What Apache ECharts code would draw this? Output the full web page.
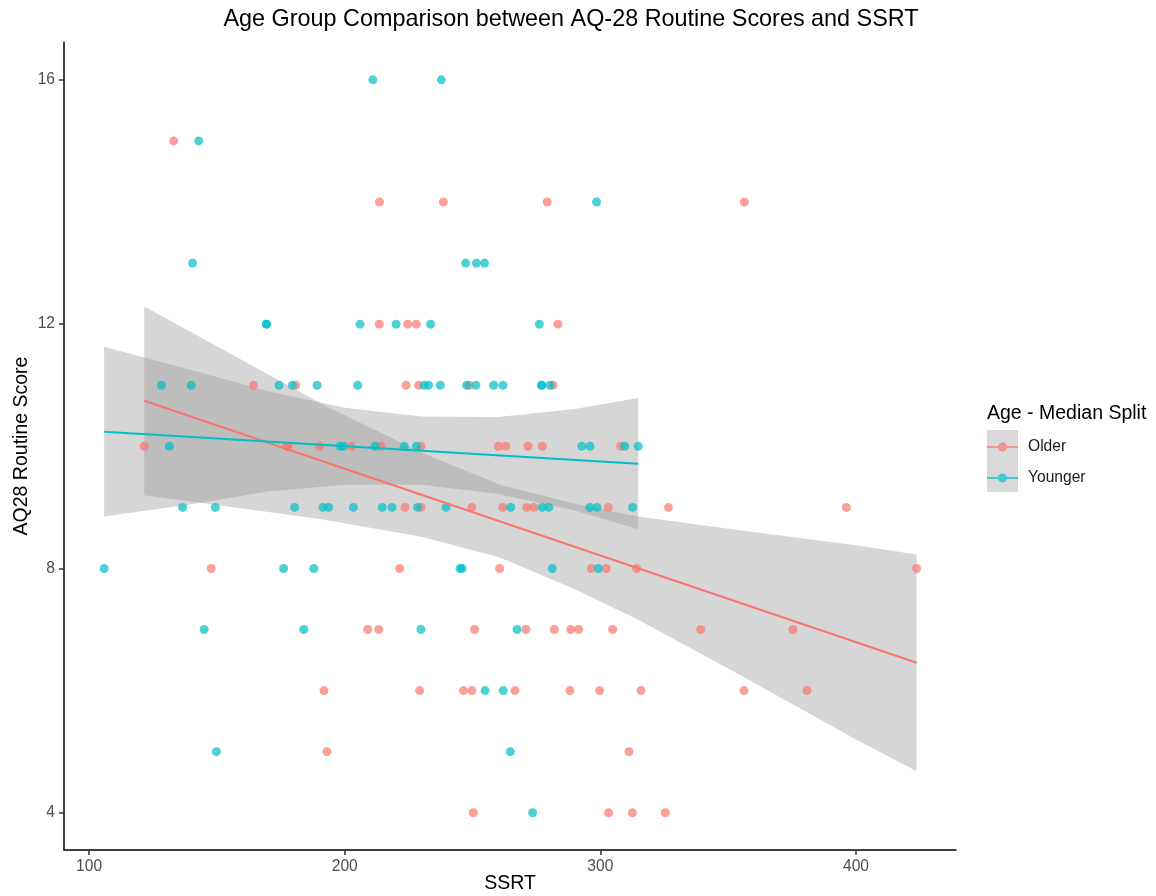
<!DOCTYPE html>
<html>
<head>
<meta charset="utf-8">
<script src="https://cdn.jsdelivr.net/npm/echarts@6/dist/echarts.min.js"></script>
<style>
  html, body { margin: 0; padding: 0; background: #fff; }
  #main { width: 1156px; height: 896px; }
</style>
</head>
<body>
<div id="main"></div>
<script>
// scatter points
const olderSsrt = [
  133.1,
  213.6, 238.6, 279.2, 356.3,
  213.5, 224.6, 228.0, 283.4,
  164.3, 180.8, 224.0, 228.9, 248.7, 281.5,
  121.6, 177.4, 177.8, 190.2, 202.6, 214.1, 229.8, 260.1, 263.0, 271.7, 277.3, 307.9,
  223.6, 229.8, 249.7, 261.8, 271.2, 274.0, 303.1, 326.6, 396.2,
  147.8, 221.5, 260.6, 296.5, 302.3, 314.2, 423.7,
  209.0, 213.3, 250.8, 270.9, 282.0, 288.4, 291.5, 304.8, 339.2, 375.3,
  191.9, 229.3, 246.5, 249.7, 266.6, 288.1, 299.7, 315.9, 356.2, 380.8,
  193.0, 311.2,
  250.3, 303.2, 312.5, 325.4
];
const olderScore = [
  15,
  14, 14, 14, 14,
  12, 12, 12, 12,
  11, 11, 11, 11, 11, 11,
  10, 10, 10, 10, 10, 10, 10, 10, 10, 10, 10, 10,
  9, 9, 9, 9, 9, 9, 9, 9, 9,
  8, 8, 8, 8, 8, 8, 8,
  7, 7, 7, 7, 7, 7, 7, 7, 7, 7,
  6, 6, 6, 6, 6, 6, 6, 6, 6, 6,
  5, 5,
  4, 4, 4, 4
];
const youngerSsrt = [
  211.0, 237.8,
  142.9,
  298.5,
  140.5, 247.3, 251.5, 254.7,
  169.4, 169.4, 206.0, 220.1, 233.6, 276.1,
  128.3, 140.0, 174.3, 179.5, 189.2, 205.1, 231.1, 232.8, 237.4, 247.7, 251.3, 258.3, 261.9, 277.0, 277.0, 280.3,
  131.4, 198.2, 199.5, 211.9, 223.3, 228.1, 292.7, 295.9, 309.5, 314.8,
  136.6, 149.4, 180.4, 191.5, 193.7, 203.4, 214.7, 218.5, 228.5, 239.6, 264.9, 277.3, 279.8, 295.9, 298.7, 312.6,
  105.9, 176.1, 187.9, 245.1, 245.9, 281.2, 299.2,
  145.0, 184.0, 229.8, 267.4,
  254.9, 262.0,
  149.8, 264.8,
  273.5
];
const youngerScore = [
  16, 16,
  15,
  14,
  13, 13, 13, 13,
  12, 12, 12, 12, 12, 12,
  11, 11, 11, 11, 11, 11, 11, 11, 11, 11, 11, 11, 11, 11, 11, 11,
  10, 10, 10, 10, 10, 10, 10, 10, 10, 10,
  9, 9, 9, 9, 9, 9, 9, 9, 9, 9, 9, 9, 9, 9, 9, 9,
  8, 8, 8, 8, 8, 8, 8,
  7, 7, 7, 7,
  6, 6,
  5, 5,
  4
];

// fitted lines (end points) and confidence bands
const olderFitX = [121.6, 423.7];
const olderFitY = [10.745, 6.455];
const youngerFitX = [105.9, 314.8];
const youngerFitY = [10.24, 9.715];

const olderBandX = [121.6, 150, 191.6, 230, 260.7, 290, 314.8, 350, 400, 423.7];
const olderBandLo = [9.20, 9.04, 8.80, 8.52, 8.18, 7.66, 7.16, 6.36, 5.20, 4.68];
const olderBandHi = [12.29, 11.64, 10.68, 9.90, 9.37, 9.06, 8.85, 8.65, 8.38, 8.23];
const youngerBandX = [105.9, 140, 170, 200, 230, 260, 290, 314.8];
const youngerBandLo = [8.85, 9.05, 9.26, 9.37, 9.37, 9.22, 8.95, 8.64];
const youngerBandHi = [11.63, 11.25, 10.90, 10.63, 10.49, 10.48, 10.61, 10.79];

const xTicks = [100, 200, 300, 400];
const yTicks = [4, 8, 12, 16];

const groups = ['Older', 'Younger'];
const colors = ['#F8766D', '#00BFC4'];
const font = "'Liberation Sans', Arial, sans-serif";

const chartDom = document.getElementById('main');
const myChart = echarts.init(chartDom);

function zip(xs, ys) {
  return xs.map((x, i) => [x, ys[i]]);
}

function bandSeries(name, xs, lo, hi) {
  return {
    name: name,
    type: 'custom',
    z: 1,
    silent: true,
    data: xs.map((x, i) => [x, lo[i], hi[i]]),
    encode: { x: 0, y: [1, 2] },
    renderItem: function (params, api) {
      if (params.dataIndex !== 0) return null;
      const pts = [];
      for (let i = 0; i < xs.length; i++) pts.push(api.coord([xs[i], hi[i]]));
      for (let i = xs.length - 1; i >= 0; i--) pts.push(api.coord([xs[i], lo[i]]));
      return {
        type: 'polygon',
        shape: { points: pts },
        style: { fill: 'rgba(153,153,153,0.4)', stroke: null }
      };
    }
  };
}

// legend key: a line with a dot in the middle (31 x 9 box)
const keyIcon = 'path://M0 3.5L31 3.5L31 5.5L0 5.5Z M11 4.5A4.5 4.5 0 1 1 20 4.5A4.5 4.5 0 1 1 11 4.5Z';

let option = {
  animation: false,
  backgroundColor: '#fff',
  textStyle: { fontFamily: font },
  title: [
    {
      text: 'Age Group Comparison between AQ-28 Routine Scores and SSRT',
      left: 566,
      top: 3,
      textAlign: 'center',
      textStyle: { fontSize: 23.4, fontWeight: 'normal', color: '#000', fontFamily: font }
    },
    {
      text: 'Age - Median Split',
      left: 982,
      top: 399,
      textStyle: { fontSize: 19.5, fontWeight: 'normal', color: '#000', fontFamily: font }
    }
  ],
  graphic: [
    {
      type: 'rect',
      left: 987,
      top: 430,
      shape: { width: 31, height: 62 },
      style: { fill: '#d9d9d9' },
      z: -1
    }
  ],
  legend: {
    orient: 'vertical',
    left: 987,
    top: 439,
    padding: 0,
    itemWidth: 31,
    itemHeight: 9,
    itemGap: 15,
    selectedMode: false,
    icon: keyIcon,
    textStyle: { fontSize: 15.6, lineHeight: 16, color: '#1a1a1a', fontFamily: font, padding: [0, 0, 0, 5] },
    data: groups
  },
  grid: { left: 64, right: 200, top: 42, bottom: 46, outerBoundsMode: 'none' },
  xAxis: {
    type: 'value',
    min: 90.2,
    max: 439.1,
    name: 'SSRT',
    nameLocation: 'middle',
    nameGap: 24,
    nameMoveOverlap: false,
    nameTextStyle: { fontSize: 19.5, color: '#000', fontFamily: font },
    axisLine: { show: true, onZero: false, lineStyle: { color: '#000', width: 1.5 } },
    axisTick: { show: true, length: 5, customValues: xTicks, lineStyle: { color: '#333', width: 1.5 } },
    axisLabel: { customValues: xTicks, fontSize: 15.6, color: '#4d4d4d', margin: 9, fontFamily: font },
    splitLine: { show: false }
  },
  yAxis: {
    type: 'value',
    min: 3.39,
    max: 16.62,
    name: 'AQ28 Routine Score',
    nameLocation: 'middle',
    nameRotate: 90,
    nameGap: 32,
    nameMoveOverlap: false,
    nameTextStyle: { fontSize: 19.5, color: '#000', fontFamily: font },
    axisLine: { show: true, onZero: false, lineStyle: { color: '#000', width: 1.5 } },
    axisTick: { show: true, length: 5, customValues: yTicks, lineStyle: { color: '#333', width: 1.5 } },
    axisLabel: { customValues: yTicks, fontSize: 15.6, color: '#4d4d4d', margin: 9, fontFamily: font },
    splitLine: { show: false }
  },
  series: [
    bandSeries('olderBand', olderBandX, olderBandLo, olderBandHi),
    bandSeries('youngerBand', youngerBandX, youngerBandLo, youngerBandHi),
    {
      name: 'Older',
      type: 'scatter',
      z: 2,
      symbolSize: 9,
      itemStyle: { color: colors[0], opacity: 0.7 },
      data: zip(olderSsrt, olderScore)
    },
    {
      name: 'Younger',
      type: 'scatter',
      z: 2,
      symbolSize: 9,
      itemStyle: { color: colors[1], opacity: 0.7 },
      data: zip(youngerSsrt, youngerScore)
    },
    {
      name: 'olderFit',
      type: 'line',
      z: 3,
      symbol: 'none',
      silent: true,
      lineStyle: { color: colors[0], width: 2 },
      data: zip(olderFitX, olderFitY)
    },
    {
      name: 'youngerFit',
      type: 'line',
      z: 3,
      symbol: 'none',
      silent: true,
      lineStyle: { color: colors[1], width: 2 },
      data: zip(youngerFitX, youngerFitY)
    }
  ]
};

option && myChart.setOption(option);
</script>
</body>
</html>
